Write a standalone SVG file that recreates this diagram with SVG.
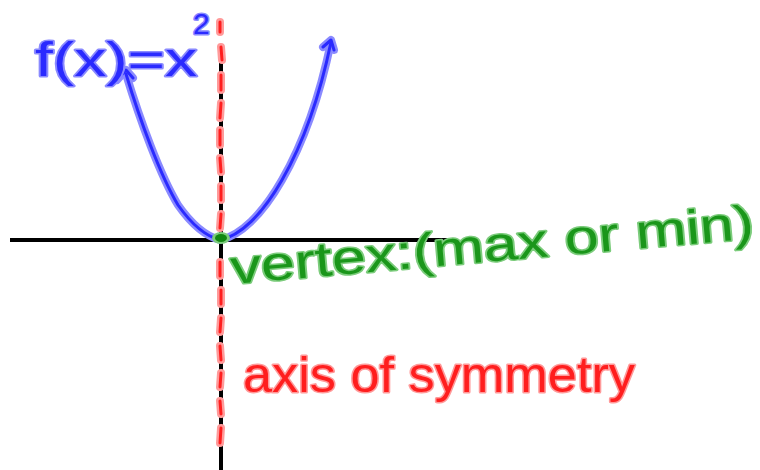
<svg xmlns="http://www.w3.org/2000/svg" width="760" height="470" viewBox="0 0 760 470">
<style>
.halo-b{fill:none;stroke:#8a8aff;stroke-width:8;stroke-linecap:round;stroke-linejoin:round}
.core-b{fill:none;stroke:#2a2aff;stroke-width:3;stroke-linecap:round;stroke-linejoin:round}
.halo-r{fill:none;stroke:#ff9a9a;stroke-width:8;stroke-linecap:round}
.core-r{fill:none;stroke:#ff1e1e;stroke-width:3;stroke-linecap:round}
.axis{fill:none;stroke:#000;stroke-width:4}
.lbl{font-family:"Liberation Sans","DejaVu Sans",sans-serif;paint-order:stroke;stroke-linejoin:round}
.blue{fill:#2a2aff;stroke:#8a8aff;stroke-width:3}
.green{fill:#1a961a;stroke:#7ccc7c;stroke-width:3}
.red{fill:#ff1e1e;stroke:#ff9a9a;stroke-width:3}
</style>
<rect width="760" height="470" fill="#fff"/>
<g id="axes">
<line class="axis" x1="10" y1="240" x2="455" y2="240"/>
<line class="axis" x1="221" y1="45" x2="221" y2="470"/>
</g>
<g id="parabola">
<path class="halo-b" d="M126,74 C140,120 160,175 178,205 C192,225 205,236 220,240 C240,236 262,215 282,180 C305,140 320,95 331,42"/>
<path class="halo-b" d="M117,80 L126,70 L133,78 M323,47 L331,40 L334,50"/>
<path class="core-b" d="M126,74 C140,120 160,175 178,205 C192,225 205,236 220,240 C240,236 262,215 282,180 C305,140 320,95 331,42"/>
<path class="core-b" d="M117,80 L126,70 L133,78 M323,47 L331,40 L334,50"/>
</g>
<g id="axis-of-symmetry-line">
<path class="halo-r" d="M220,22 L220,32 M221,47 L222,60 M221,75 L221,90 M221,103 L220,118 M220,130 L220,145 M220,158 L221,172 M221,186 L221,200 M221,214 L220,228 M220,262 L220,276 M221,290 L221,304 M221,318 L220,332 M220,346 L221,360 M221,373 L220,387 M220,401 L221,414 M221,428 L220,443"/>
<path class="core-r" d="M220,22 L220,32 M221,47 L222,60 M221,75 L221,90 M221,103 L220,118 M220,130 L220,145 M220,158 L221,172 M221,186 L221,200 M221,214 L220,228 M220,262 L220,276 M221,290 L221,304 M221,318 L220,332 M220,346 L221,360 M221,373 L220,387 M220,401 L221,414 M221,428 L220,443"/>
</g>
<g id="vertex">
<ellipse cx="221" cy="238" rx="9" ry="6" fill="#7ccc7c"/>
<ellipse cx="221" cy="238" rx="6" ry="4" fill="#118811"/>
</g>
<g id="labels">
<text class="lbl blue" x="35" y="76" font-size="48" textLength="162" lengthAdjust="spacingAndGlyphs">f(x)=x</text>
<text class="lbl blue" x="193" y="34" font-size="30">2</text>
<text class="lbl green" x="232" y="284" font-size="48" textLength="525" lengthAdjust="spacingAndGlyphs" transform="rotate(-5 232 284)">vertex:(max or min)</text>
<text class="lbl red" x="243" y="392" font-size="50" textLength="392" lengthAdjust="spacingAndGlyphs">axis of symmetry</text>
</g>
</svg>
